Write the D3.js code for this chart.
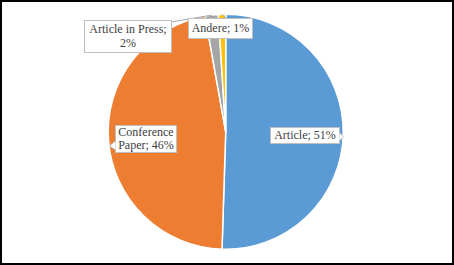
<!DOCTYPE html>
<html><head><meta charset="utf-8">
<script src="https://cdn.jsdelivr.net/npm/d3@7/dist/d3.min.js"></script>
<style>body{margin:0;background:#fff}svg{display:block}
.lbl{font-family:"Liberation Serif","Times New Roman",serif;font-size:12px;fill:#404040}</style>
</head><body>
<svg id="c" width="454" height="265"></svg>
<script>
const categories = ["Article", "Conference Paper", "Article in Press", "Andere"];
const values = [50.5, 46.7, 1.8, 1.0];
const labelLines = [["Article; 51%"], ["Conference", "Paper; 46%"], ["Article in Press;", "2%"], ["Andere; 1%"]];
const colors = ["#5B9BD5", "#ED7D31", "#A5A5A5", "#FFC000"];

const W = 454, H = 265;
const svg = d3.select("#c");
svg.append("rect").attr("x", 1).attr("y", 1).attr("width", W - 2).attr("height", H - 2)
  .attr("fill", "#fff").attr("stroke", "#000").attr("stroke-width", 2);

const cx = 225.7, cy = 131.8, R = 117.5;
const pie = d3.pie().sort(null).value(d => d)(values);
const arc = d3.arc().innerRadius(0).outerRadius(R);
const g = svg.append("g").attr("transform", `translate(${cx},${cy})`);
g.selectAll("path").data(pie).join("path")
  .attr("d", arc).attr("fill", (d, i) => colors[i])
  .attr("stroke", "#fff").attr("stroke-width", 1.5).attr("stroke-linejoin", "round");

// label layout (boxes)
const layout = [
  {x: 270, y: 127, w: 69, h: 16, ptr: "right"},
  {x: 115, y: 125, w: 61, h: 27, ptr: "left"},
  {x: 84, y: 20, w: 87, h: 32, ptr: "leader"},
  {x: 188, y: 18, w: 64, h: 20, ptr: "leader"}
];
const lab = svg.append("g");
pie.forEach((p, i) => {
  const L = layout[i];
  const mid = (p.startAngle + p.endAngle) / 2;
  const ax = cx + Math.sin(mid) * R, ay = cy - Math.cos(mid) * R;
  if (L.ptr === "leader") {
    const sx = i === 2 ? L.x + L.w : L.x + L.w / 2 + 6;
    const sy = i === 2 ? L.y + 2 : L.y;
    lab.append("line").attr("x1", sx).attr("y1", sy).attr("x2", ax).attr("y2", ay)
      .attr("stroke", "#A6A6A6").attr("stroke-width", 1);
  }
  lab.append("rect").attr("x", L.x + 0.5).attr("y", L.y + 0.5).attr("width", L.w).attr("height", L.h)
    .attr("fill", "#fff").attr("stroke", "#BFBFBF").attr("stroke-width", 1);
  if (L.ptr === "right") {
    const bx = L.x + L.w + 0.5, by = L.y + L.h * 0.55;
    lab.append("path").attr("d", `M${bx},${by - 3}L${bx + 4},${by + 1}L${bx},${by + 5}`)
      .attr("fill", "#fff").attr("stroke", "#BFBFBF").attr("stroke-width", 1);
  } else if (L.ptr === "left") {
    const bx = L.x + 0.5, by = L.y + L.h * 0.7;
    lab.append("path").attr("d", `M${bx},${by - 3}L${bx - 6},${by + 2}L${bx},${by + 6}`)
      .attr("fill", "#fff").attr("stroke", "#BFBFBF").attr("stroke-width", 1);
  }
  const lines = labelLines[i];
  const lh = 13.5;
  const t = lab.append("text").attr("class", "lbl").attr("text-anchor", "middle");
  lines.forEach((s, k) => {
    t.append("tspan").attr("x", L.x + 0.5 + L.w / 2)
      .attr("y", L.y + L.h / 2 + (k - (lines.length - 1) / 2) * lh + 4.2).text(s);
  });
});
</script>
</body></html>
